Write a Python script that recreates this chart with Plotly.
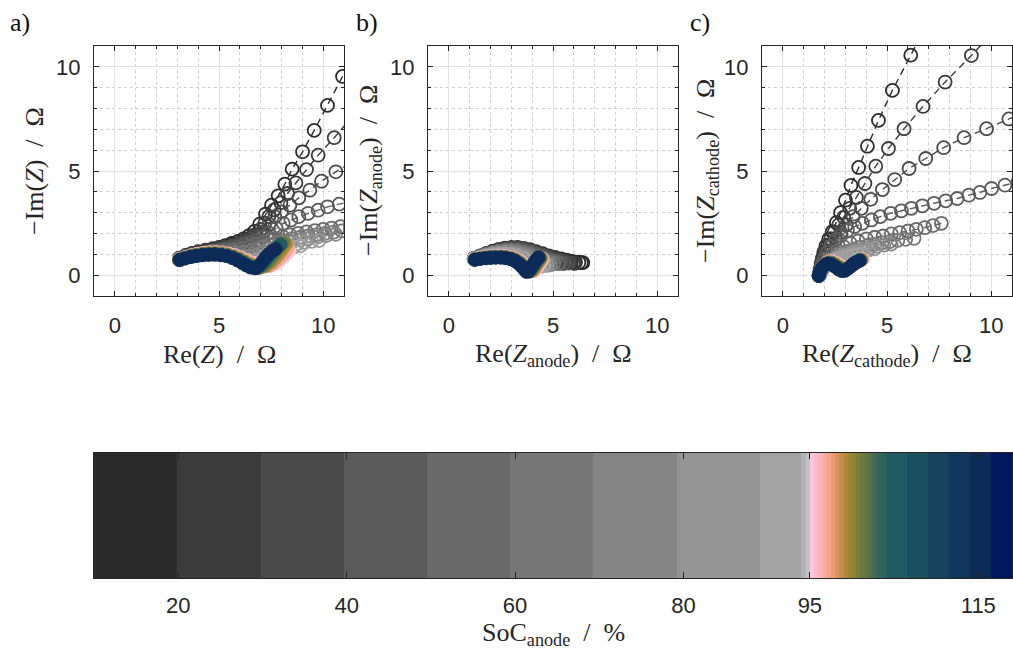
import plotly.graph_objects as go

# ---------------- colour bar (SoC_anode) ----------------
soc_edges = [10, 19.9, 29.8, 39.65, 49.5, 59.4, 69.3, 79.2, 89.1, 94.0, 94.5, 95.0,
             95.5, 96.0, 96.5, 97.0, 97.5, 98.0, 98.5, 99.0, 99.5, 100.0, 100.5, 101.0,
             101.5, 102.0, 102.5, 103.0, 103.5, 104.0,
             106.5, 109.0, 111.5, 114.0, 116.5, 119.0]
soc_colors = ['#2b2b2b', '#3b3b3b', '#4a4a4a', '#5a5a5a', '#696969', '#777777', '#858585',
              '#959595', '#a3a3a3', '#b3b3b3', '#c2c2c2',
              '#fbc6de', '#fbbccf', '#fab3b9', '#f8aa9f', '#f4a487', '#eb9c6e', '#da935a',
              '#c78c48', '#b18739', '#9f8533', '#8d8332', '#7c7f38', '#6c7a40', '#5e7548',
              '#4f6f4f', '#426a55', '#386559', '#2f615c',
              '#1f5b60', '#1a4f60', '#15435e', '#10375b', '#0c2b58', '#02185a']
cbar_ticks = [20, 40, 60, 80, 95, 115]

# ---------------- spectra: SoC values and colours ----------------
gray_soc = [10, 20, 30, 40, 50, 60, 70, 80, 90]
gray_colors = ['#2b2b2b', '#3b3b3b', '#4a4a4a', '#5a5a5a', '#696969', '#777777', '#858585', '#959595', '#a3a3a3']
col_soc = [95, 97, 99, 101, 104, 114]
col_colors = ['#fbc6de', '#f4a487', '#b18739', '#6c7a40', '#1f5b60', '#0c2b58']

# ---- panel a: Z (Re, -Im) ----
a_10 = [(3.10,0.82),(3.40,0.95),(3.70,1.05),(4.00,1.13),(4.35,1.20),(4.70,1.27),(5.00,1.33),(5.30,1.42),(5.60,1.52),(5.90,1.62),(6.20,1.75),(6.45,1.90),(6.70,2.10),(6.95,2.45),(7.23,2.93),(7.52,3.36),(7.84,3.81),(8.16,4.37),(8.51,5.09),(9.01,5.92),(9.57,6.95),(10.21,8.15),(10.93,9.54),(11.80,11.20)]
a_20 = [(3.10,0.80),(3.40,0.92),(3.70,1.02),(4.00,1.10),(4.35,1.17),(4.70,1.23),(5.00,1.29),(5.30,1.36),(5.60,1.44),(5.90,1.53),(6.20,1.64),(6.50,1.78),(6.75,1.95),(7.00,2.20),(7.20,2.50),(7.39,2.81),(7.65,3.13),(7.97,3.48),(8.29,3.92),(8.69,4.43),(9.20,5.07),(9.76,5.76),(10.53,6.60),(11.40,7.60)]
a_30 = [(3.10,0.79),(3.40,0.90),(3.70,0.99),(4.00,1.07),(4.35,1.13),(4.70,1.19),(5.00,1.24),(5.30,1.30),(5.60,1.37),(5.90,1.45),(6.20,1.55),(6.50,1.67),(6.80,1.83),(7.10,2.07),(7.40,2.45),(7.68,2.81),(8.00,3.04),(8.40,3.36),(8.83,3.71),(9.36,4.08),(9.92,4.51),(10.61,4.96),(11.40,5.45)]
a_40 = [(3.10,0.78),(3.40,0.88),(3.70,0.97),(4.00,1.04),(4.35,1.10),(4.70,1.15),(5.00,1.19),(5.30,1.24),(5.60,1.30),(5.90,1.37),(6.20,1.45),(6.50,1.55),(6.80,1.68),(7.10,1.84),(7.40,2.02),(7.75,2.25),(8.08,2.49),(8.45,2.65),(8.83,2.81),(9.28,2.97),(9.76,3.12),(10.21,3.28),(10.77,3.41),(11.40,3.56)]
a_50 = [(3.10,0.77),(3.40,0.86),(3.70,0.94),(4.00,1.01),(4.35,1.06),(4.70,1.10),(5.00,1.13),(5.30,1.16),(5.60,1.20),(5.90,1.25),(6.20,1.31),(6.50,1.39),(6.80,1.48),(7.10,1.58),(7.40,1.68),(7.70,1.77),(8.05,1.86),(8.40,1.94),(8.80,2.01),(9.20,2.08),(9.60,2.14),(10.00,2.20),(10.40,2.26),(10.83,2.33),(11.30,2.40)]
a_60 = [(3.10,0.76),(3.40,0.85),(3.70,0.92),(4.00,0.98),(4.35,1.02),(4.70,1.05),(5.00,1.06),(5.30,1.06),(5.60,1.06),(5.90,1.07),(6.20,1.10),(6.50,1.16),(6.80,1.25),(7.10,1.36),(7.40,1.47),(7.75,1.58),(8.10,1.67),(8.50,1.75),(8.90,1.82),(9.30,1.89),(9.70,1.95),(10.10,2.01),(10.50,2.07),(10.90,2.13),(11.30,2.19)]
a_70 = [(3.10,0.75),(3.40,0.84),(3.70,0.91),(4.00,0.96),(4.35,1.00),(4.70,1.02),(5.00,1.02),(5.30,1.00),(5.60,0.97),(5.90,0.93),(6.20,0.90),(6.50,0.90),(6.80,0.96),(7.10,1.10),(7.40,1.25),(7.75,1.38),(8.10,1.49),(8.50,1.59),(8.90,1.68),(9.30,1.76),(9.75,1.84),(10.15,1.90),(10.60,1.96)]
a_80 = [(3.10,0.74),(3.40,0.83),(3.70,0.90),(4.00,0.95),(4.35,0.98),(4.70,1.00),(5.00,0.99),(5.30,0.96),(5.60,0.90),(5.90,0.82),(6.20,0.74),(6.50,0.68),(6.80,0.72),(7.10,0.90),(7.40,1.07),(7.70,1.21),(8.05,1.33),(8.40,1.43),(8.75,1.51),(9.10,1.57),(9.45,1.62),(9.80,1.66)]
a_90 = [(3.10,0.74),(3.40,0.82),(3.70,0.89),(4.00,0.94),(4.35,0.97),(4.70,0.99),(5.00,0.98),(5.30,0.94),(5.60,0.87),(5.90,0.77),(6.20,0.65),(6.50,0.55),(6.80,0.55),(7.10,0.72),(7.40,0.90),(7.70,1.05),(8.00,1.17),(8.30,1.27),(8.60,1.35),(8.90,1.41)]
a_95 = [(3.08,0.77),(3.35,0.86),(3.65,0.95),(3.95,1.02),(4.25,1.07),(4.55,1.10),(4.85,1.11),(5.15,1.09),(5.45,1.04),(5.75,0.96),(6.05,0.85),(6.35,0.72),(6.65,0.59),(6.95,0.48),(7.25,0.42),(7.50,0.45),(7.72,0.55),(7.92,0.70),(8.10,0.86),(8.25,1.02),(8.38,1.16)]
a_97 = [(3.09,0.76),(3.35,0.85),(3.64,0.93),(3.94,1.00),(4.24,1.05),(4.54,1.08),(4.84,1.09),(5.14,1.07),(5.44,1.01),(5.73,0.93),(6.02,0.82),(6.30,0.69),(6.58,0.56),(6.86,0.45),(7.14,0.40),(7.40,0.45),(7.62,0.57),(7.82,0.74),(8.00,0.92),(8.15,1.10),(8.28,1.28)]
a_99 = [(3.09,0.75),(3.35,0.84),(3.64,0.92),(3.93,0.98),(4.23,1.03),(4.53,1.06),(4.83,1.06),(5.13,1.04),(5.42,0.99),(5.70,0.90),(5.98,0.79),(6.24,0.66),(6.50,0.53),(6.76,0.43),(7.03,0.38),(7.28,0.45),(7.49,0.60),(7.68,0.79),(7.85,0.99),(8.00,1.19),(8.13,1.38),(8.22,1.50)]
a_101 = [(3.10,0.75),(3.35,0.83),(3.63,0.90),(3.92,0.96),(4.22,1.01),(4.52,1.03),(4.82,1.04),(5.12,1.01),(5.41,0.96),(5.68,0.88),(5.95,0.77),(6.19,0.64),(6.42,0.51),(6.66,0.40),(6.92,0.36),(7.15,0.46),(7.35,0.63),(7.53,0.83),(7.70,1.04),(7.85,1.25),(7.98,1.43),(8.08,1.57)]
a_104 = [(3.10,0.74),(3.35,0.81),(3.63,0.89),(3.91,0.94),(4.21,0.98),(4.51,1.00),(4.81,1.01),(5.11,0.98),(5.40,0.93),(5.66,0.85),(5.91,0.74),(6.14,0.61),(6.36,0.49),(6.58,0.38),(6.82,0.34),(7.02,0.46),(7.20,0.64),(7.37,0.85),(7.53,1.05),(7.69,1.23),(7.84,1.38),(7.96,1.48)]
a_114 = [(3.11,0.73),(3.35,0.80),(3.62,0.87),(3.90,0.92),(4.20,0.96),(4.50,0.98),(4.80,0.99),(5.10,0.96),(5.38,0.91),(5.64,0.82),(5.88,0.71),(6.10,0.59),(6.30,0.47),(6.50,0.37),(6.72,0.33),(6.90,0.45),(7.06,0.63),(7.22,0.83),(7.38,1.01),(7.55,1.15),(7.72,1.26)]

# ---- panel b: Z_anode ----
b_10 = [(1.22,0.80),(1.50,0.92),(1.80,1.04),(2.10,1.15),(2.40,1.24),(2.70,1.30),(3.00,1.33),(3.30,1.33),(3.60,1.29),(3.90,1.22),(4.20,1.13),(4.50,1.03),(4.80,0.93),(5.10,0.85),(5.40,0.78),(5.65,0.72),(5.88,0.67),(6.08,0.63),(6.24,0.61),(6.36,0.60),(6.43,0.60)]
b_20 = [(1.22,0.79),(1.50,0.90),(1.80,1.01),(2.10,1.11),(2.40,1.19),(2.70,1.25),(3.00,1.28),(3.30,1.27),(3.60,1.23),(3.90,1.16),(4.20,1.07),(4.50,0.97),(4.80,0.87),(5.10,0.78),(5.38,0.71),(5.62,0.65),(5.82,0.61),(5.97,0.58),(6.05,0.57)]
b_30 = [(1.22,0.80),(1.50,0.91),(1.80,1.02),(2.10,1.12),(2.40,1.20),(2.70,1.26),(3.00,1.29),(3.30,1.29),(3.60,1.25),(3.90,1.18),(4.20,1.08),(4.50,0.97),(4.80,0.86),(5.10,0.76),(5.38,0.67),(5.60,0.61),(5.75,0.58)]
b_40 = [(1.22,0.79),(1.50,0.90),(1.80,1.00),(2.10,1.09),(2.40,1.17),(2.70,1.22),(3.00,1.24),(3.30,1.23),(3.60,1.18),(3.90,1.10),(4.20,1.00),(4.50,0.88),(4.80,0.77),(5.10,0.67),(5.35,0.60),(5.50,0.56)]
b_50 = [(1.22,0.79),(1.50,0.89),(1.80,0.99),(2.10,1.08),(2.40,1.15),(2.70,1.19),(3.00,1.20),(3.30,1.18),(3.60,1.12),(3.90,1.03),(4.20,0.92),(4.50,0.80),(4.80,0.69),(5.05,0.61),(5.25,0.56)]
b_60 = [(1.22,0.78),(1.50,0.88),(1.80,0.98),(2.10,1.06),(2.40,1.12),(2.70,1.15),(3.00,1.15),(3.30,1.12),(3.60,1.05),(3.90,0.95),(4.20,0.84),(4.50,0.72),(4.78,0.62),(5.02,0.55)]
b_70 = [(1.22,0.78),(1.50,0.87),(1.80,0.96),(2.10,1.03),(2.40,1.08),(2.70,1.10),(3.00,1.09),(3.30,1.05),(3.60,0.97),(3.90,0.86),(4.20,0.74),(4.45,0.63),(4.68,0.55),(4.87,0.50)]
b_80 = [(1.22,0.77),(1.50,0.86),(1.80,0.94),(2.10,1.00),(2.40,1.04),(2.70,1.05),(3.00,1.03),(3.30,0.97),(3.60,0.87),(3.90,0.74),(4.15,0.62),(4.38,0.53),(4.58,0.48),(4.72,0.47)]
b_90 = [(1.22,0.77),(1.50,0.85),(1.80,0.92),(2.10,0.97),(2.40,1.00),(2.70,1.00),(3.00,0.97),(3.30,0.90),(3.60,0.78),(3.85,0.62),(4.05,0.48),(4.22,0.40),(4.38,0.40),(4.50,0.45),(4.58,0.50)]
b_95 = [(1.22,0.77),(1.47,0.82),(1.72,0.87),(1.97,0.90),(2.22,0.92),(2.47,0.93),(2.72,0.91),(2.97,0.87),(3.20,0.80),(3.40,0.69),(3.58,0.56),(3.74,0.42),(3.88,0.29),(4.00,0.19),(4.12,0.20),(4.22,0.33),(4.32,0.49),(4.42,0.64),(4.50,0.78)]
b_97 = [(1.23,0.76),(1.48,0.81),(1.73,0.86),(1.98,0.89),(2.23,0.90),(2.48,0.91),(2.73,0.89),(2.97,0.85),(3.20,0.77),(3.39,0.66),(3.56,0.53),(3.72,0.39),(3.85,0.26),(3.96,0.19),(4.08,0.22),(4.18,0.36),(4.28,0.52),(4.38,0.67),(4.46,0.80)]
b_99 = [(1.23,0.76),(1.48,0.80),(1.73,0.85),(1.98,0.87),(2.23,0.89),(2.48,0.89),(2.73,0.87),(2.97,0.83),(3.19,0.75),(3.38,0.63),(3.55,0.50),(3.69,0.36),(3.82,0.24),(3.93,0.19),(4.04,0.25),(4.14,0.39),(4.24,0.55),(4.34,0.69),(4.42,0.81)]
b_101 = [(1.24,0.75),(1.49,0.80),(1.74,0.83),(1.99,0.86),(2.24,0.87),(2.49,0.87),(2.74,0.85),(2.98,0.80),(3.19,0.72),(3.37,0.61),(3.53,0.47),(3.67,0.33),(3.78,0.21),(3.89,0.18),(4.00,0.27),(4.10,0.42),(4.20,0.57),(4.30,0.72),(4.38,0.83)]
b_104 = [(1.24,0.75),(1.49,0.79),(1.74,0.82),(1.99,0.84),(2.24,0.86),(2.49,0.86),(2.74,0.83),(2.98,0.78),(3.18,0.70),(3.36,0.58),(3.52,0.44),(3.64,0.30),(3.75,0.19),(3.86,0.18),(3.96,0.30),(4.06,0.45),(4.16,0.60),(4.26,0.74),(4.34,0.84)]
b_114 = [(1.25,0.74),(1.50,0.78),(1.75,0.81),(2.00,0.83),(2.25,0.84),(2.50,0.84),(2.75,0.81),(2.98,0.76),(3.18,0.67),(3.35,0.55),(3.50,0.41),(3.62,0.27),(3.72,0.16),(3.82,0.18),(3.92,0.32),(4.02,0.48),(4.12,0.63),(4.22,0.77),(4.30,0.86)]

# ---- panel c: Z_cathode ----
c_10 = [(1.75,0.05),(1.79,0.30),(1.84,0.56),(1.90,0.82),(1.97,1.10),(2.07,1.40),(2.20,1.72),(2.37,2.09),(2.57,2.52),(2.77,3.00),(3.01,3.60),(3.27,4.31),(3.64,5.17),(4.06,6.19),(4.59,7.43),(5.26,8.87),(6.14,10.56),(7.20,12.60)]
c_20 = [(1.75,0.05),(1.80,0.30),(1.87,0.58),(1.95,0.86),(2.04,1.15),(2.16,1.45),(2.30,1.75),(2.47,2.07),(2.68,2.41),(2.92,2.78),(3.21,3.21),(3.53,3.73),(3.94,4.40),(4.46,5.23),(5.07,6.08),(5.82,7.03),(6.73,8.10),(7.79,9.27),(9.05,10.54),(10.50,12.10)]
c_30 = [(1.75,0.03),(1.82,0.25),(1.92,0.52),(2.04,0.80),(2.18,1.10),(2.35,1.40),(2.55,1.72),(2.78,2.05),(3.05,2.41),(3.37,2.81),(3.77,3.21),(4.22,3.64),(4.78,4.11),(5.37,4.59),(6.06,5.12),(6.86,5.60),(7.72,6.12),(8.70,6.60),(9.78,7.03),(10.85,7.50),(12.00,7.95)]
c_40 = [(1.75,0.02),(1.79,0.24),(1.87,0.50),(1.98,0.78),(2.12,1.08),(2.30,1.38),(2.53,1.67),(2.80,1.92),(3.10,2.14),(3.45,2.33),(3.82,2.49),(4.25,2.65),(4.68,2.81),(5.18,2.97),(5.69,3.09),(6.17,3.21),(6.70,3.33),(7.26,3.45),(7.82,3.57),(8.37,3.68),(8.93,3.84),(9.46,3.97),(10.02,4.16),(10.66,4.32),(11.30,4.48)]
c_50 = [(1.76,0.02),(1.86,0.24),(1.99,0.48),(2.16,0.72),(2.37,0.96),(2.62,1.18),(2.92,1.37),(3.25,1.52),(3.61,1.64),(4.01,1.74),(4.41,1.82),(4.81,1.88),(5.21,1.98),(5.61,2.04),(6.01,2.12),(6.41,2.20),(6.81,2.28),(7.21,2.38),(7.61,2.49)]
c_60 = [(1.76,0.02),(1.85,0.21),(1.97,0.40),(2.12,0.58),(2.31,0.75),(2.54,0.90),(2.80,1.03),(3.09,1.14),(3.40,1.24),(3.72,1.33),(4.06,1.41),(4.41,1.48),(4.77,1.55),(5.14,1.61),(5.52,1.67),(5.90,1.72),(6.30,1.77)]
c_70 = [(1.76,0.02),(1.84,0.19),(1.95,0.36),(2.09,0.52),(2.27,0.67),(2.48,0.80),(2.72,0.92),(2.98,1.02),(3.26,1.11),(3.55,1.19),(3.86,1.26),(4.18,1.33),(4.51,1.39),(4.85,1.44),(5.20,1.49)]
c_80 = [(1.76,0.01),(1.84,0.17),(1.94,0.33),(2.07,0.47),(2.23,0.60),(2.42,0.72),(2.63,0.82),(2.86,0.91),(3.10,0.99),(3.35,1.06),(3.61,1.12),(3.87,1.17),(4.13,1.22),(4.40,1.26)]
c_90 = [(1.75,0.00),(1.82,0.15),(1.91,0.29),(2.03,0.42),(2.17,0.53),(2.33,0.63),(2.51,0.71),(2.71,0.78),(2.92,0.84),(3.14,0.89),(3.37,0.94),(3.60,0.98),(3.83,1.01)]
c_95 = [(1.72,-0.02),(1.78,0.15),(1.86,0.32),(1.96,0.47),(2.08,0.59),(2.22,0.66),(2.38,0.66),(2.55,0.59),(2.73,0.48),(2.91,0.39),(3.09,0.36),(3.26,0.41),(3.42,0.51),(3.57,0.61),(3.71,0.70),(3.84,0.77)]
c_97 = [(1.72,-0.02),(1.78,0.14),(1.86,0.31),(1.95,0.46),(2.07,0.57),(2.21,0.64),(2.37,0.63),(2.54,0.56),(2.71,0.44),(2.89,0.35),(3.07,0.33),(3.23,0.39),(3.39,0.50),(3.54,0.60),(3.68,0.69),(3.81,0.76)]
c_99 = [(1.72,-0.03),(1.78,0.14),(1.85,0.30),(1.95,0.44),(2.06,0.55),(2.20,0.62),(2.36,0.60),(2.52,0.52),(2.70,0.40),(2.87,0.31),(3.05,0.30),(3.21,0.37),(3.36,0.49),(3.51,0.59),(3.65,0.68),(3.78,0.74)]
c_101 = [(1.72,-0.03),(1.77,0.13),(1.85,0.29),(1.94,0.43),(2.06,0.54),(2.19,0.59),(2.34,0.58),(2.51,0.49),(2.68,0.37),(2.86,0.28),(3.02,0.27),(3.18,0.36),(3.34,0.48),(3.48,0.59),(3.62,0.67),(3.74,0.73)]
c_104 = [(1.72,-0.04),(1.77,0.13),(1.84,0.28),(1.94,0.41),(2.05,0.52),(2.18,0.57),(2.33,0.55),(2.49,0.45),(2.67,0.33),(2.84,0.24),(3.00,0.24),(3.16,0.34),(3.31,0.47),(3.45,0.58),(3.59,0.66),(3.71,0.71)]
c_114 = [(1.72,-0.04),(1.77,0.12),(1.84,0.27),(1.93,0.40),(2.04,0.50),(2.17,0.55),(2.32,0.52),(2.48,0.42),(2.65,0.29),(2.82,0.20),(2.98,0.21),(3.13,0.32),(3.28,0.46),(3.42,0.57),(3.56,0.65),(3.68,0.70)]

panels = [
    ([a_10, a_20, a_30, a_40, a_50, a_60, a_70, a_80, a_90], [a_95, a_97, a_99, a_101, a_104, a_114]),
    ([b_10, b_20, b_30, b_40, b_50, b_60, b_70, b_80, b_90], [b_95, b_97, b_99, b_101, b_104, b_114]),
    ([c_10, c_20, c_30, c_40, c_50, c_60, c_70, c_80, c_90], [c_95, c_97, c_99, c_101, c_104, c_114]),
]

W, H = 1013, 650
def px_x(p):
    return p / W
def px_y(p):
    return 1 - p / H

TICK_FONT = dict(family='Liberation Sans, Arial, sans-serif', size=22, color='#262626')
SERIF = 'Liberation Serif, Times New Roman, serif'
DASH = '7px,5px'
SP = '\u00a0\u00a0'

fig = go.Figure()

for pi, (grays, cols) in enumerate(panels):
    xa = 'x' if pi == 0 else 'x%d' % (pi + 1)
    ya = 'y' if pi == 0 else 'y%d' % (pi + 1)
    for soc, colr, pts in zip(gray_soc, gray_colors, grays):
        fig.add_trace(go.Scatter(
            x=[p[0] for p in pts], y=[p[1] for p in pts], xaxis=xa, yaxis=ya,
            mode='lines+markers', name='SoC %g %%' % soc, showlegend=False, hoverinfo='skip',
            line=dict(color=colr, width=1.4, dash=DASH),
            marker=dict(symbol='circle-open', size=13, color=colr, line=dict(width=1.8, color=colr))))
    for soc, colr, pts in zip(col_soc, col_colors, cols):
        fig.add_trace(go.Scatter(
            x=[p[0] for p in pts], y=[p[1] for p in pts], xaxis=xa, yaxis=ya,
            mode='lines+markers', name='SoC %g %%' % soc, showlegend=False, hoverinfo='skip',
            line=dict(color=colr, width=1.4, dash=DASH),
            marker=dict(symbol='circle', size=13, color=colr, line=dict(width=1, color=colr))))

# colour bar as a one-row heatmap with bin edges
n = len(soc_colors)
fig.add_trace(go.Heatmap(
    z=[list(range(n))], x=soc_edges, y=[0, 1], xaxis='x4', yaxis='y4',
    colorscale=[[i / (n - 1), c] for i, c in enumerate(soc_colors)],
    zmin=0, zmax=n - 1, showscale=False, hoverinfo='skip'))

def nyq_axis(dom, anchor):
    return dict(domain=dom, anchor=anchor, range=[-1, 11], tickvals=[0, 5, 10],
                showgrid=True, gridcolor='#e2e2e2', gridwidth=1, zeroline=False,
                showline=True, linecolor='#262626', linewidth=1, mirror='ticks',
                ticks='inside', ticklen=5, tickcolor='#262626', tickwidth=1,
                tickfont=TICK_FONT, ticklabelstandoff=10,
                minor=dict(dtick=1, tick0=0, showgrid=True, gridcolor='#cfcfcf', griddash='dot',
                           gridwidth=1, ticks='inside', ticklen=3, tickcolor='#262626'))

ydom = [px_y(296), px_y(46)]
xdoms = [[px_x(94), px_x(344)], [px_x(428), px_x(678)], [px_x(762), px_x(1012)]]

layout = dict(width=W, height=H, margin=dict(l=0, r=0, t=0, b=0),
              paper_bgcolor='white', plot_bgcolor='white', showlegend=False)
for i in range(3):
    sx = '' if i == 0 else str(i + 1)
    layout['xaxis' + sx] = nyq_axis(xdoms[i], 'y' + sx)
    yax = nyq_axis(ydom, 'x' + sx)
    yax['ticklabelstandoff'] = 8
    layout['yaxis' + sx] = yax

layout['xaxis4'] = dict(domain=[px_x(94), px_x(1012)], anchor='y4', range=[soc_edges[0], soc_edges[-1]],
                        tickvals=cbar_ticks, showgrid=False, zeroline=False, showline=True,
                        linecolor='#262626', linewidth=1, mirror='ticks', ticks='inside', ticklen=6,
                        tickcolor='#262626', tickfont=TICK_FONT, ticklabelstandoff=8)
layout['yaxis4'] = dict(domain=[px_y(578), px_y(453)], anchor='x4', range=[0, 1], showgrid=False,
                        zeroline=False, showline=True, linecolor='#262626', linewidth=1, mirror=True,
                        showticklabels=False, ticks='')
fig.update_layout(**layout)

ann = []
for lbl, xp in [('a)', 8), ('b)', 354), ('c)', 688)]:
    ann.append(dict(text=lbl, x=px_x(xp), y=px_y(22), xref='paper', yref='paper', xanchor='left',
                    yanchor='middle', showarrow=False, font=dict(family=SERIF, size=26, color='#111111')))
xt = ['Re(<i>Z</i>)' + SP + '/' + SP + 'Ω',
      'Re(<i>Z</i><sub>anode</sub>)' + SP + '/' + SP + 'Ω',
      'Re(<i>Z</i><sub>cathode</sub>)' + SP + '/' + SP + 'Ω']
yt = ['−Im(<i>Z</i>)' + SP + '/' + SP + 'Ω',
      '−Im(<i>Z</i><sub>anode</sub>)' + SP + '/' + SP + 'Ω',
      '−Im(<i>Z</i><sub>cathode</sub>)' + SP + '/' + SP + 'Ω']
xc = [219, 553, 887]
yc = [34, 370, 707]
for i in range(3):
    ann.append(dict(text=xt[i], x=px_x(xc[i]), y=px_y(355), xref='paper', yref='paper',
                    xanchor='center', yanchor='middle', showarrow=False,
                    font=dict(family=SERIF, size=26, color='#262626')))
    ann.append(dict(text=yt[i], x=px_x(yc[i]), y=px_y(171), xref='paper', yref='paper',
                    xanchor='center', yanchor='middle', showarrow=False, textangle=-90,
                    font=dict(family=SERIF, size=26, color='#262626')))
ann.append(dict(text='SoC<sub>anode</sub>' + SP + '/' + SP + '%', x=px_x(553), y=px_y(634),
                xref='paper', yref='paper', xanchor='center', yanchor='middle', showarrow=False,
                font=dict(family=SERIF, size=26, color='#262626')))
fig.update_layout(annotations=ann)

fig.write_html('out.html')
